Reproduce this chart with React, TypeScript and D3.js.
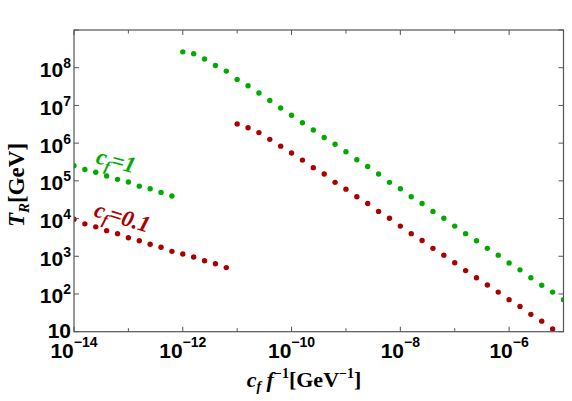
import * as d3 from "d3";

// log10 values
const greenHighX = [-12.0, -11.8, -11.6, -11.4, -11.2, -11.0, -10.8, -10.6, -10.4, -10.2, -10.0, -9.8, -9.6, -9.4, -9.2, -9.0, -8.8, -8.6, -8.4, -8.2, -8.0, -7.8, -7.6, -7.4, -7.2, -7.0, -6.8, -6.6, -6.4, -6.2, -6.0, -5.8, -5.6, -5.4, -5.2, -5.0];
const greenHighY = [8.42, 8.37, 8.23, 8.06, 7.91, 7.69, 7.52, 7.33, 7.13, 6.93, 6.74, 6.54, 6.35, 6.15, 5.97, 5.77, 5.56, 5.38, 5.18, 4.96, 4.79, 4.58, 4.40, 4.19, 4.01, 3.80, 3.60, 3.41, 3.21, 3.03, 2.82, 2.64, 2.43, 2.23, 2.05, 1.85];

const redHighX = [-11.0, -10.8, -10.6, -10.4, -10.2, -10.0, -9.8, -9.6, -9.4, -9.2, -9.0, -8.8, -8.6, -8.4, -8.2, -8.0, -7.8, -7.6, -7.4, -7.2, -7.0, -6.8, -6.6, -6.4, -6.2, -6.0, -5.8, -5.6, -5.4, -5.2];
const redHighY = [6.51, 6.41, 6.28, 6.10, 5.92, 5.74, 5.55, 5.35, 5.18, 4.96, 4.78, 4.58, 4.40, 4.19, 4.01, 3.80, 3.60, 3.42, 3.21, 3.03, 2.83, 2.62, 2.43, 2.24, 2.05, 1.85, 1.67, 1.46, 1.28, 1.07];

const greenLowX = [-14.0, -13.8, -13.6, -13.4, -13.2, -13.0, -12.8, -12.6, -12.4, -12.2];
const greenLowY = [5.40, 5.30, 5.23, 5.13, 5.04, 4.97, 4.86, 4.79, 4.69, 4.60];

const redLowX = [-14.0, -13.8, -13.6, -13.4, -13.2, -13.0, -12.8, -12.6, -12.4, -12.2, -12.0, -11.8, -11.6, -11.4, -11.2];
const redLowY = [3.98, 3.86, 3.78, 3.68, 3.60, 3.49, 3.41, 3.32, 3.24, 3.13, 3.06, 2.98, 2.88, 2.80, 2.70];

const xTickExps = [-14, -13, -12, -11, -10, -9, -8, -7, -6, -5];
const xLabelExps = ["-14", "-12", "-10", "-8", "-6"];
const yTickExps = [1, 2, 3, 4, 5, 6, 7, 8, 9];
const yLabelExps = ["", "2", "3", "4", "5", "6", "7", "8"];

const GREEN = "#00aa00";
const RED = "#aa0000";

const left = 74, right = 563.5, top = 30, bottom = 331.7;

const x = d3.scaleLog().domain([1e-14, 1e-5]).range([left, right]);
const y = d3.scaleLog().domain([10, 1e9]).range([bottom, top]);

const series = [
  { xs: greenHighX, ys: greenHighY, color: GREEN },
  { xs: redHighX, ys: redHighY, color: RED },
  { xs: greenLowX, ys: greenLowY, color: GREEN },
  { xs: redLowX, ys: redLowY, color: RED },
];

const tickFont = "'Liberation Sans', Arial, sans-serif";
const serif = "'Liberation Serif', 'Times New Roman', serif";

export default function App() {
  const frame = "#555";
  return (
    <div style={{ position: "absolute", left: 0, top: 0 }}>
      <svg width={572} height={401} style={{ display: "block", background: "#fff" }}>
        <defs>
          <clipPath id="plot">
            <rect x={left} y={top} width={right - left} height={bottom - top} />
          </clipPath>
        </defs>

        <g clipPath="url(#plot)">
          {series.map((s, si) =>
            s.xs.map((v, i) => (
              <circle
                key={`${si}-${i}`}
                cx={x(Math.pow(10, v))}
                cy={y(Math.pow(10, s.ys[i]))}
                r={2.7}
                fill={s.color}
              />
            ))
          )}
        </g>

        <rect x={left} y={top} width={right - left} height={bottom - top} fill="none" stroke={frame} strokeWidth={1.2} />

        {xTickExps.map((e) => {
          const px = x(Math.pow(10, e));
          const len = e % 2 === 0 ? 5 : 3.5;
          return (
            <g key={e} stroke={frame} strokeWidth={1}>
              <line x1={px} x2={px} y1={bottom} y2={bottom - len} />
              <line x1={px} x2={px} y1={top} y2={top + len} />
            </g>
          );
        })}
        {yTickExps.map((e) => {
          const py = y(Math.pow(10, e));
          return (
            <g key={e} stroke={frame} strokeWidth={1}>
              <line x1={left} x2={left + 5} y1={py} y2={py} />
              <line x1={right} x2={right - 5} y1={py} y2={py} />
            </g>
          );
        })}

        {xLabelExps.map((e) => (
          <text
            key={e}
            x={x(Math.pow(10, +e))}
            y={357.5}
            textAnchor="middle"
            fontFamily={tickFont}
            fontWeight="bold"
            fontSize={21}
            fill="#000"
          >
            10
            <tspan dy={-10.5} fontSize={14}>{e.replace("-", "\u2212")}</tspan>
          </text>
        ))}
        {yLabelExps.map((e, i) => {
          const py = y(Math.pow(10, i + 1));
          return (
            <text
              key={i}
              x={71}
              y={e ? py + 9.5 : py + 6.5}
              textAnchor="end"
              fontFamily={tickFont}
              fontWeight="bold"
              fontSize={21}
              fill="#000"
            >
              10
              {e && <tspan dy={-9} fontSize={14}>{e}</tspan>}
            </text>
          );
        })}

        {/* axis titles */}
        <text x={304} y={387} textAnchor="middle" fontFamily={serif} fontWeight="bold" fontSize={22} fill="#000">
          <tspan fontStyle="italic">c</tspan>
          <tspan fontStyle="italic" fontSize={14} dy={4}>f</tspan>
          <tspan fontStyle="italic" dy={-4}> f</tspan>
          <tspan fontSize={14} dy={-9}>{"\u22121"}</tspan>
          <tspan dy={9}>[GeV</tspan>
          <tspan fontSize={14} dy={-9}>{"\u22121"}</tspan>
          <tspan dy={9}>]</tspan>
        </text>
        <text
          transform="translate(24,185) rotate(-90)"
          textAnchor="middle"
          fontFamily={serif}
          fontWeight="bold"
          fontSize={23}
          fill="#000"
        >
          <tspan fontStyle="italic">T</tspan>
          <tspan fontStyle="italic" fontSize={15} dy={5}>R</tspan>
          <tspan dy={-5}>[GeV]</tspan>
        </text>

        {/* curve labels */}
        <text transform="translate(95,163) rotate(15)" fontFamily={serif} fontWeight="bold" fontStyle="italic" fontSize={23} fill={GREEN}>
          c<tspan fontSize={15} dy={5}>f</tspan>
          <tspan dy={-5}>=1</tspan>
        </text>
        <text transform="translate(93,216) rotate(17)" fontFamily={serif} fontWeight="bold" fontStyle="italic" fontSize={23} fill={RED}>
          c<tspan fontSize={15} dy={5}>f</tspan>
          <tspan dy={-5}>=0.1</tspan>
        </text>
      </svg>
    </div>
  );
}
